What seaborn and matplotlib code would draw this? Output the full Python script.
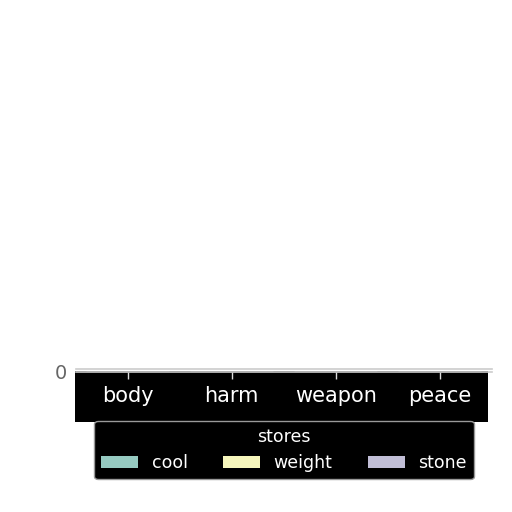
import numpy as np
import pandas as pd
import seaborn as sns
import matplotlib.pyplot as plt
from matplotlib.patches import Rectangle

# values: the plot area is squashed flat, only the 0 line shows
categories = ["body", "harm", "weapon", "peace"]
stores = ["cool", "weight", "stone"]
cool = [0, 0, 0, 0]
weight = [0, 0, 0, 0]
stone = [0, 0, 0, 0]

df = pd.DataFrame({
    "category": categories * 3,
    "stores": ["cool"] * 4 + ["weight"] * 4 + ["stone"] * 4,
    "value": cool + weight + stone,
})

sns.set_theme(style="white")
plt.rcParams['font.family'] = ['DejaVu Sans']

fig = plt.figure(figsize=(5.12, 5.12), dpi=100, facecolor="white")

# dark band behind the tick labels
fig.patches.append(Rectangle((0.147, 0.176), 0.807, 0.100, transform=fig.transFigure,
                             facecolor="black", edgecolor="none", zorder=0))

ax = fig.add_axes([0.148, 0.274, 0.8125, 0.005])
ax.set_zorder(2)
ax.set_facecolor("none")
sns.barplot(data=df, x="category", y="value", hue="stores", hue_order=stores,
            palette="Set3", ax=ax, legend=True)
ax.set_ylim(0, 1)
ax.set_yticks([0])
ax.set_xlabel("")
ax.set_ylabel("")
for s in ["left", "right"]:
    ax.spines[s].set_visible(False)
for s in ["top", "bottom"]:
    ax.spines[s].set_color("#cccccc")
    ax.spines[s].set_linewidth(1.2)
ax.tick_params(axis="x", bottom=True, color="#dddddd", labelcolor="white",
               labelsize=15, length=5, width=1, pad=5)
ax.tick_params(axis="y", labelcolor="#666666", labelsize=14, length=0, pad=6)

handles, labels = ax.get_legend_handles_labels()
ax.get_legend().remove()
for h in handles:
    h.set_edgecolor("none")
    h.set_linewidth(0)
leg = fig.legend(handles, labels, title="stores", ncol=3, loc="upper center",
                 bbox_to_anchor=(0.555, 0.178), borderaxespad=0, fontsize=12.5,
                 title_fontsize=12.5, handlelength=2.1, columnspacing=2.05,
                 facecolor="black", edgecolor="#999999", framealpha=1, labelcolor="white")
leg.get_title().set_color("white")
leg.set_zorder(3)

fig.savefig("out.png", dpi=100, facecolor="white")
